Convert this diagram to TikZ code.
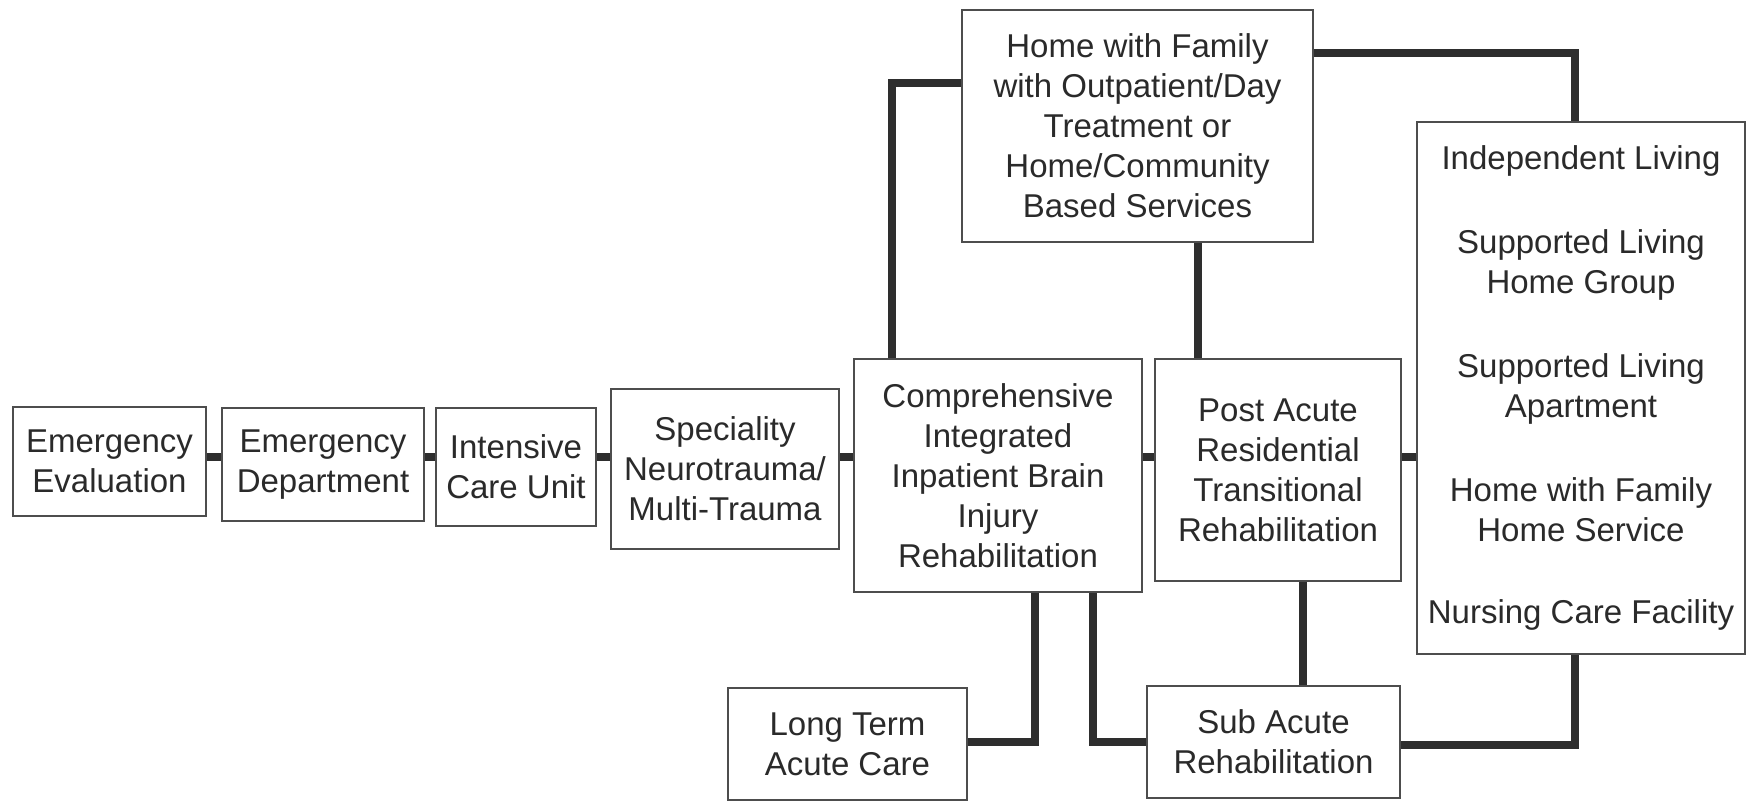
\documentclass[tikz,border=0pt]{standalone}
\usepackage{fontspec}
\setmainfont{Liberation Sans}
\definecolor{boxline}{HTML}{4D4D4D}
\definecolor{conn}{HTML}{2E2E2E}
\definecolor{txt}{HTML}{2A2A2A}
\begin{document}
\begin{tikzpicture}[x=1pt,y=-1pt,
  box/.style={draw=boxline, line width=2.5pt, fill=white, inner sep=0pt, align=center,
    text=txt, font=\fontsize{33}{40}\selectfont},
  link/.style={draw=conn, line width=8pt}]
\useasboundingbox[fill=white] (0,0) rectangle (1750,802);
\coordinate (chain) at (0,457);
% connectors first (behind boxes)
\node[box, minimum width=193pt, minimum height=109pt] (b1) at (109.5,461.5) {Emergency\\Evaluation};
\node[box, minimum width=202pt, minimum height=113pt] (b2) at (323,464.5) {Emergency\\Department};
\node[box, minimum width=160pt, minimum height=118pt] (b3) at (516,467) {Intensive\\Care Unit};
\node[box, minimum width=228pt, minimum height=160pt] (b4) at (725,469) {Speciality\\Neurotrauma/\\Multi-Trauma};
\node[box, minimum width=288pt, minimum height=233pt] (b5) at (998,475.5) {Comprehensive\\Integrated\\Inpatient Brain\\Injury\\Rehabilitation};
\node[box, minimum width=246pt, minimum height=222pt] (b6) at (1278,470) {Post Acute\\Residential\\Transitional\\Rehabilitation};
\node[box, minimum width=328pt, minimum height=532pt] (b7) at (1581,388) {Independent Living\\[44pt]Supported Living\\Home Group\\[44pt]Supported Living\\Apartment\\[44pt]Home with Family\\Home Service\\[42pt]Nursing Care Facility};
\node[box, minimum width=351pt, minimum height=232pt] (b8) at (1137.5,126) {Home with Family\\with Outpatient/Day\\Treatment or\\Home/Community\\Based Services};
\node[box, minimum width=239pt, minimum height=112pt] (b9) at (847.5,744) {Long Term\\Acute Care};
\node[box, minimum width=253pt, minimum height=112pt] (b10) at (1273.5,742) {Sub Acute\\Rehabilitation};
% chain links
\draw[link] (b1.east |- chain) -- (b2.west |- chain);
\draw[link] (b2.east |- chain) -- (b3.west |- chain);
\draw[link] (b3.east |- chain) -- (b4.west |- chain);
\draw[link] (b4.east |- chain) -- (b5.west |- chain);
\draw[link] (b5.east |- chain) -- (b6.west |- chain);
\draw[link] (b6.east |- chain) -- (b7.west |- chain);
% other links
\draw[link] (b5.north -| 892,0) |- (b8.west |- 0,83);
\draw[link] (b8.east |- 0,53) -| (b7.north -| 1575,0);
\draw[link] (b8.south -| 1198,0) -- (b6.north -| 1198,0);
\draw[link] (b5.south -| 1035,0) |- (b9.east |- 0,742);
\draw[link] (b5.south -| 1093,0) |- (b10.west |- 0,742);
\draw[link] (b6.south -| 1303,0) -- (b10.north -| 1303,0);
\draw[link] (b7.south -| 1575,0) |- (b10.east |- 0,745);
\end{tikzpicture}
\end{document}
